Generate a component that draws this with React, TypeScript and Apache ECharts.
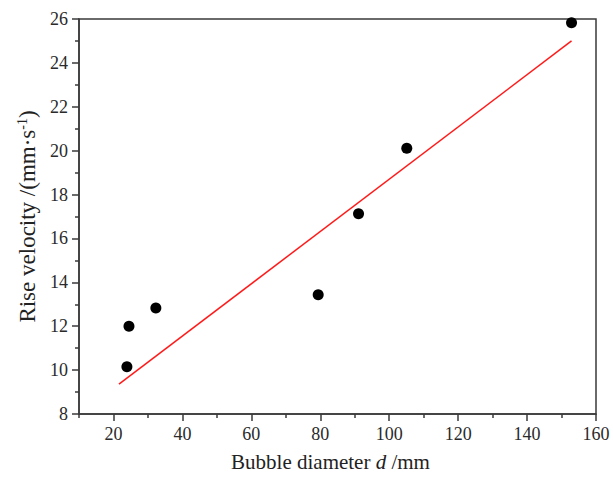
import React, { useEffect, useRef } from "react";
import * as echarts from "echarts";

const diameters = [23.9, 24.5, 32.3, 79.4, 91.1, 105.1, 152.9];
const velocities = [10.15, 12.0, 12.83, 13.43, 17.13, 20.11, 25.83];
const fitX = [21.6, 152.9];
const fitY = [9.36, 25.0];
const xMajor = [20, 40, 60, 80, 100, 120, 140, 160];
const xMinor = [10, 30, 50, 70, 90, 110, 130, 150];

export default function App() {
  const ref = useRef<HTMLDivElement>(null);
  useEffect(() => {
    if (!ref.current) return;
    const chart = echarts.init(ref.current, null, { renderer: "svg" });
    const font = "Liberation Serif";
    const axisColor = "#3a3a3a";
    chart.setOption({
      animation: false,
      backgroundColor: "#fff",
      grid: {
        left: 79,
        right: 17,
        top: 19,
        bottom: 60,
        show: true,
        borderColor: axisColor,
        borderWidth: 1.5,
      },
      xAxis: [
        {
          type: "value",
          min: 10,
          max: 160,
          interval: 10,
          name: "{n|Bubble diameter }{i|d}{n| /mm}",
          nameLocation: "middle",
          nameGap: 37,
          nameTextStyle: {
            padding: [0, 14, 0, 0],
            rich: {
              n: { fontFamily: font, fontSize: 21, color: "#222" },
              i: { fontFamily: font, fontSize: 21, color: "#222", fontStyle: "italic" },
            },
          },
          axisLine: { onZero: false, lineStyle: { color: axisColor, width: 1.5 } },
          axisTick: {
            show: true,
            inside: false,
            length: 7,
            customValues: xMajor,
            lineStyle: { color: axisColor, width: 1.5 },
          },
          axisLabel: {
            fontFamily: font,
            fontSize: 18,
            color: "#2a2a2a",
            margin: 11,
            customValues: xMajor,
          },
          splitLine: { show: false },
        },
        {
          type: "value",
          min: 10,
          max: 160,
          interval: 10,
          position: "bottom",
          axisLine: { show: false, onZero: false },
          axisTick: {
            show: true,
            inside: false,
            length: 4,
            customValues: xMinor,
            lineStyle: { color: axisColor, width: 1.5 },
          },
          axisLabel: { show: false },
          splitLine: { show: false },
        },
      ],
      yAxis: {
        type: "value",
        min: 8,
        max: 26,
        interval: 2,
        name: "{n|Rise velocity /(mm·s}{s|-1}{n|)}",
        nameLocation: "middle",
        nameGap: 40,
        nameRotate: 90,
        nameTextStyle: {
          rich: {
            n: { fontFamily: font, fontSize: 23, color: "#222" },
            s: { fontFamily: font, fontSize: 14, color: "#222", verticalAlign: "top", padding: [0, 0, 10, 0] },
          },
        },
        axisLine: { onZero: false, lineStyle: { color: axisColor, width: 1.5 } },
        axisTick: { show: true, inside: false, length: 7, lineStyle: { color: axisColor, width: 1.5 } },
        minorTick: { show: true, splitNumber: 2, length: 4, lineStyle: { color: axisColor, width: 1.5 } },
        axisLabel: { fontFamily: font, fontSize: 18, color: "#2a2a2a", margin: 11 },
        splitLine: { show: false },
      },
      series: [
        {
          type: "line",
          data: fitX.map((x, i) => [x, fitY[i]]),
          showSymbol: false,
          symbol: "none",
          lineStyle: { color: "#ff1a1a", width: 1.5 },
          z: 2,
        },
        {
          type: "scatter",
          data: diameters.map((x, i) => [x, velocities[i]]),
          symbol: "circle",
          symbolSize: 11,
          itemStyle: { color: "#000", opacity: 1 },
          z: 3,
        },
      ],
    });
    return () => chart.dispose();
  }, []);
  return (
    <div
      ref={ref}
      style={{ position: "fixed", left: 0, top: 0, width: 613, height: 477 }}
    />
  );
}
